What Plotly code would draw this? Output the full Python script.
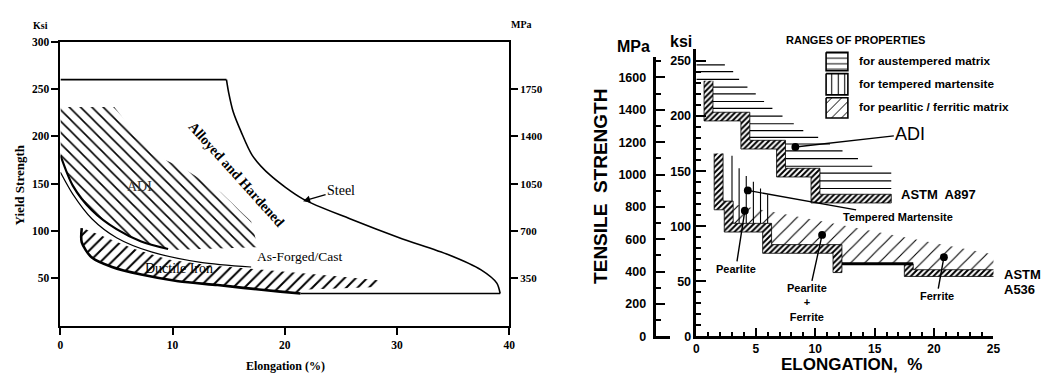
import plotly.graph_objects as go

W, H = 1050, 381
SERIF = "Liberation Serif, Times New Roman, serif"
SANS = "Liberation Sans, Arial, sans-serif"

# ================= LEFT CHART DATA (elongation %, yield strength ksi) =================
steel_top_elong = [0, 14.8]
steel_top_ksi = [260, 260]
steel_curve_elong = [14.8, 15.0, 15.4, 16.1, 17.1, 18.7, 21.6, 25.8, 30.2, 34.6, 37.5, 38.9, 39.2]
steel_curve_ksi = [260, 246, 226, 205, 180, 159, 134, 113, 93, 75, 59, 45, 34]
steel_base_elong = [39.2, 21.4]
steel_base_ksi = [34, 34]

ductile_low_elong = [1.9, 1.9, 2.8, 4.6, 7.2, 10.5, 14.0, 16.3, 19.6, 21.4]
ductile_low_ksi = [103, 88, 72, 62, 54, 47, 43, 40, 36, 34]
ductile_top_elong = [1.8, 3.7, 6.6, 9.6, 13.2, 17.2, 21.4, 24.9, 28.3]
ductile_top_ksi = [104, 95, 81, 70, 64, 60, 56, 52, 48]
ductile_end_elong = [28.3, 21.4]
ductile_end_ksi = [41, 38]

adi_edge_elong = [0, 4.8, 8.1, 11.0, 14.3, 17.0, 17.6, 9.9]
adi_edge_ksi = [231, 231, 182, 166, 141, 110, 83, 80]
adi_low_elong = [9.6, 7.2, 5.0, 2.8, 1.1, 0]
adi_low_ksi = [81, 89, 102, 122, 148, 180]

asforged_elong = [0, 1.1, 2.8, 5.0, 8.1, 12.5, 17.0]
asforged_ksi = [162, 139, 113, 93, 78, 67, 62]

left_x_ticks = [0, 10, 20, 30, 40]
left_y_ticks = [50, 100, 150, 200, 250, 300]
left_mpa_ticks = [350, 700, 1050, 1400, 1750]

# ================= RIGHT CHART DATA (elongation %, tensile strength ksi) =================
a897_elong = [1.4, 1.4, 4.5, 4.5, 7.5, 7.5, 10.4, 10.4, 16.4]
a897_ksi = [232, 203.5, 203.5, 178, 178, 152.6, 152.6, 129, 129]
a536_elong = [2.25, 2.25, 3.1, 3.1, 6.33, 6.33, 12.25, 12.25, 18.25, 18.25, 25.2]
a536_ksi = [166, 122.8, 122.8, 102.6, 102.6, 83.3, 83.3, 65.8, 65.8, 60.5, 60.5]

aust_line_ksi = [246.5, 240.4, 233.3, 226.3, 220.2, 213.2, 207.0, 200.0, 193.0, 186.8,
                 180.7, 174.6, 168.4, 161.4, 154.4, 148.2, 141.2, 134.2]
aust_line_end = [2.4, 3.1, 3.6, 4.3, 5.0, 5.7, 6.4, 7.25, 8.2, 9.0,
                 10.25, 11.25, 12.3, 13.6, 14.8, 16.4, 16.4, 16.4]

temp_line_elong = [3.0, 3.6, 4.2, 4.8, 5.4, 6.0]
temp_line_top = [164, 152.6, 145.6, 140.4, 134.2, 128.9]

pearl_env_elong = [3.1, 25.2]
pearl_env_ksi = [120, 74]

point_elong = [8.33, 4.33, 4.08, 10.58, 20.83]
point_ksi = [171.9, 132.5, 114.0, 92.1, 71.9]

mpa_ticks = [0, 200, 400, 600, 800, 1000, 1200, 1400, 1600]

# ---------------- helpers ----------------
def band(xs, ys, tx, ty):
    sx = [x - tx for x in xs]
    sy = [y - ty for y in ys]
    px = list(xs) + [xs[-1]] + sx[::-1] + [xs[0] - tx]
    py = list(ys) + [ys[-1] - ty] + sy[::-1] + [ys[0]]
    return px, py


def step_x_at(y, xs, ys):
    if y > ys[0]:
        return 0.0
    for i in range(len(xs) - 1):
        if xs[i] == xs[i + 1] and min(ys[i], ys[i + 1]) <= y <= max(ys[i], ys[i + 1]):
            return xs[i]
    return xs[-1]


def step_y_at(x, xs, ys):
    for i in range(len(xs) - 1):
        if ys[i] == ys[i + 1] and xs[i] <= x <= xs[i + 1]:
            return ys[i]
    return ys[-1]


fig = go.Figure()
BLACK = "black"

def pattern_poly(xs, ys, shape, size, sol, xa, ya, outline=0):
    fig.add_trace(go.Scatter(
        x=xs, y=ys, xaxis=xa, yaxis=ya, mode="lines", fill="toself",
        fillcolor="rgba(0,0,0,0)",
        fillpattern=dict(shape=shape, size=size, solidity=sol, fgcolor=BLACK,
                         bgcolor="rgba(0,0,0,0)", fillmode="replace"),
        line=dict(width=outline, color=BLACK if outline else "rgba(0,0,0,0)"),
        hoverinfo="skip"))

def line(xs, ys, xa, ya, width, shape="linear", color=BLACK):
    fig.add_trace(go.Scatter(x=xs, y=ys, xaxis=xa, yaxis=ya, mode="lines",
                             line=dict(width=width, color=color, shape=shape, smoothing=0.8),
                             hoverinfo="skip"))

# ================= LEFT CHART TRACES =================
pattern_poly(adi_edge_elong + adi_low_elong, adi_edge_ksi + adi_low_ksi, "\\", 8, 0.2, "x", "y")
pattern_poly(ductile_top_elong + ductile_end_elong + ductile_low_elong[::-1],
             ductile_top_ksi + ductile_end_ksi + ductile_low_ksi[::-1], "/", 8, 0.25, "x", "y")
line(adi_low_elong, adi_low_ksi, "x", "y", 2.2, "spline")
line(asforged_elong, asforged_ksi, "x", "y", 1.2, "spline")
line(steel_top_elong, steel_top_ksi, "x", "y", 1.6)
line(steel_curve_elong, steel_curve_ksi, "x", "y", 1.6, "spline")
line(steel_base_elong, steel_base_ksi, "x", "y", 1.6)
line(ductile_low_elong, ductile_low_ksi, "x", "y", 2.6, "spline")
# dummy for secondary MPa axis
fig.add_trace(go.Scatter(x=[0], y=[0], xaxis="x", yaxis="y4", mode="markers",
                         marker=dict(opacity=0), hoverinfo="skip"))

# ================= RIGHT CHART TRACES =================
KSI_PX = 1.14
EL_PX = 12.0
TX, TY = 9 / EL_PX, 9 / KSI_PX

# pearlitic / ferritic region
pe_x = pearl_env_elong + a536_elong[3:][::-1]
pe_y = pearl_env_ksi + a536_ksi[3:][::-1]
pattern_poly(pe_x, pe_y, "/", 10, 0.11, "x2", "y2")

# austempered horizontal lines
hx, hy = [], []
for yk, xe in zip(aust_line_ksi, aust_line_end):
    hx += [step_x_at(yk, a897_elong, a897_ksi), xe, None]
    hy += [yk, yk, None]
line(hx, hy, "x2", "y2", 1.1)

# tempered martensite vertical lines
vx, vy = [], []
for xk, yt in zip(temp_line_elong, temp_line_top):
    vx += [xk, xk, None]
    vy += [step_y_at(xk, a536_elong, a536_ksi), yt, None]
line(vx, vy, "x2", "y2", 1.1)

# thick hatched boundaries
bx, by = band(a897_elong, a897_ksi, TX, TY)
pattern_poly(bx, by, "/", 4, 0.5, "x2", "y2", outline=0.8)
bx, by = band(a536_elong[:8], a536_ksi[:8], TX, TY)
pattern_poly(bx, by, "/", 4, 0.5, "x2", "y2", outline=0.8)
bx, by = band(a536_elong[8:], a536_ksi[8:], TX, 7 / KSI_PX)
pattern_poly(bx, by, "/", 4, 0.5, "x2", "y2", outline=0.8)
line(a536_elong[7:9], a536_ksi[7:9], "x2", "y2", 3)

fig.add_trace(go.Scatter(x=[0], y=[0], xaxis="x3", yaxis="y3", mode="markers",
                         marker=dict(opacity=0), hoverinfo="skip"))

# ================= LEGEND (pixel overlay axis) =================
box_x0, box_x1 = 831, 853
boxes = [(48, 67, "-", 5.5, 0.18), (70, 92, "|", 6.5, 0.16), (95, 116, "/", 7, 0.14)]
for y0, y1, shp, sz, sol in boxes:
    pattern_poly([box_x0, box_x1, box_x1, box_x0, box_x0], [y0, y0, y1, y1, y0],
                 shp, sz, sol, "x5", "y5", outline=1.6)

# ================= LAYOUT =================
def ax_common():
    return dict(showgrid=False, zeroline=False, showline=True, linecolor=BLACK)

fig.update_layout(
    width=W, height=H, margin=dict(l=0, r=0, t=0, b=0),
    paper_bgcolor="white", plot_bgcolor="rgba(0,0,0,0)", showlegend=False,
    xaxis=dict(**ax_common(), domain=[58 / W, 511 / W], range=[0, 40], anchor="y",
               tickvals=left_x_ticks, ticks="outside", ticklen=7, tickwidth=1.5, tickcolor=BLACK,
               linewidth=2, mirror=True,
               tickfont=dict(family=SERIF, size=11.5, color=BLACK, weight="bold")),
    yaxis=dict(**ax_common(), domain=[1 - 331 / H, 1 - 37 / H], range=[0, 300], anchor="x",
               tickvals=left_y_ticks, ticks="outside", ticklen=7, tickwidth=1.5, tickcolor=BLACK,
               linewidth=2, mirror=True,
               tickfont=dict(family=SERIF, size=11.5, color=BLACK, weight="bold")),
    yaxis4=dict(showgrid=False, zeroline=False, showline=False, overlaying="y", side="right",
                anchor="x", range=[0, 2100], tickvals=left_mpa_ticks, ticks="outside",
                ticklen=8, tickwidth=1.5, tickcolor=BLACK,
                tickfont=dict(family=SERIF, size=11, color=BLACK, weight="bold")),
    xaxis2=dict(**ax_common(), domain=[700 / W, 1000 / W], range=[0, 25], anchor="y2",
                tickmode="linear", tick0=0, dtick=5, ticks="inside", ticklen=9, tickwidth=2,
                tickcolor=BLACK, linewidth=2.5, ticklabelstandoff=0,
                minor=dict(dtick=1, ticks="inside", ticklen=5, tickwidth=1.5, tickcolor=BLACK),
                tickfont=dict(family=SANS, size=12, color=BLACK, weight="bold")),
    yaxis2=dict(**ax_common(), domain=[1 - 342 / H, 1 - 45 / H], range=[0, 260.5], anchor="x2",
                tickmode="linear", tick0=0, dtick=50, ticks="inside", ticklen=10, tickwidth=2,
                tickcolor=BLACK, linewidth=2.5,
                minor=dict(dtick=10, ticks="inside", ticklen=5, tickwidth=1.5, tickcolor=BLACK),
                tickfont=dict(family=SANS, size=12.5, color=BLACK, weight="bold")),
    yaxis3=dict(**ax_common(), domain=[1 - 342 / H, 1 - 53 / H], range=[0, 1725], anchor="x3",
                tickvals=mpa_ticks, ticks="inside", ticklen=9, tickwidth=2, tickcolor=BLACK,
                linewidth=3, ticklabelstandoff=4,
                minor=dict(dtick=100, ticks="inside", ticklen=5, tickwidth=1.5, tickcolor=BLACK),
                tickfont=dict(family=SANS, size=12.5, color=BLACK, weight="bold")),
    xaxis3=dict(**ax_common(), domain=[659 / W, 673 / W], range=[0, 1], anchor="y3",
                linewidth=3, showticklabels=False, ticks=""),
    xaxis5=dict(domain=[0, 1], range=[0, W], anchor="y5", visible=False),
    yaxis5=dict(domain=[0, 1], range=[H, 0], anchor="x5", visible=False),
)

ann = []

def txt(text, x, y, size, family=SANS, angle=0, color=BLACK, xanchor="center"):
    ann.append(dict(text=text, x=x / W, y=1 - y / H, xref="paper", yref="paper",
                    showarrow=False, textangle=angle, xanchor=xanchor, yanchor="middle",
                    font=dict(family=family, size=size, color=color)))

def dtxt(text, x, y, xr, yr, size, family=SERIF, angle=0, color=BLACK):
    ann.append(dict(text=text, x=x, y=y, xref=xr, yref=yr, showarrow=False,
                    textangle=angle, font=dict(family=family, size=size, color=color)))

def lead(text, x, y, xr, yr, dx, dy, size, family=SANS, head=6, hsize=1.4):
    ann.append(dict(text=text, x=x, y=y, xref=xr, yref=yr, ax=dx, ay=dy, showarrow=True,
                    arrowhead=head, arrowsize=hsize, arrowwidth=1.4, arrowcolor=BLACK,
                    font=dict(family=family, size=size, color=BLACK)))

# left chart texts
txt("<b>Ksi</b>", 38, 20, 10, SERIF)
txt("<b>MPa</b>", 523, 19, 10, SERIF)
txt("<b>Yield Strength</b>", 17, 185, 13, SERIF, angle=-90)
txt("<b>Elongation (%)</b>", 285, 373, 12, SERIF)
dtxt("ADI", 7.06, 146.9, "x", "y", 14, color="#333")
dtxt("<b>Alloyed and Hardened</b>", 15.7, 160.2, "x", "y", 14, angle=48)
dtxt("As-Forged/Cast", 21.4, 73.5, "x", "y", 13.5)
dtxt("Ductile Iron", 10.6, 60.2, "x", "y", 14)
lead("Steel", 21.63, 131.6, "x", "y", 38, -11, 14, family=SERIF, head=2, hsize=1.0)

# right chart texts
txt("<b>MPa</b>", 637, 42, 16)
txt("<b>ksi</b>", 685, 37, 16)
txt("<b>TENSILE  STRENGTH</b>", 603, 187, 19, angle=-90)
txt("<b>ELONGATION,  %</b>", 857, 371.5, 17)
txt("<b>RANGES OF PROPERTIES</b>", 861, 35, 11)
txt("<b>for austempered matrix</b>", 862, 57, 11.8, xanchor="left")
txt("<b>for tempered martensite</b>", 862, 81, 11.8, xanchor="left")
txt("<b>for pearlitic / ferritic matrix</b>", 862, 105, 11.8, xanchor="left")
txt("<b>ASTM  A897</b>", 944, 195, 13)
txt("<b>ASTM</b>", 1009, 278, 13, xanchor="left")
txt("<b>A536</b>", 1009, 294, 13, xanchor="left")

lead("ADI", point_elong[0], point_ksi[0], "x2", "y2", 115, -13, 18)
lead("<b>Tempered Martensite</b>", point_elong[1], point_ksi[1], "x2", "y2", 150, 27, 11)
lead("<b>Pearlite</b>", point_elong[2], point_ksi[2], "x2", "y2", -9, 58, 11)
lead("<b>Pearlite<br>+<br>Ferrite</b>", point_elong[3], point_ksi[3], "x2", "y2", -15, 68, 11)
lead("<b>Ferrite</b>", point_elong[4], point_ksi[4], "x2", "y2", -7, 39, 11)

fig.update_layout(annotations=ann)
fig.write_html("out.html")
